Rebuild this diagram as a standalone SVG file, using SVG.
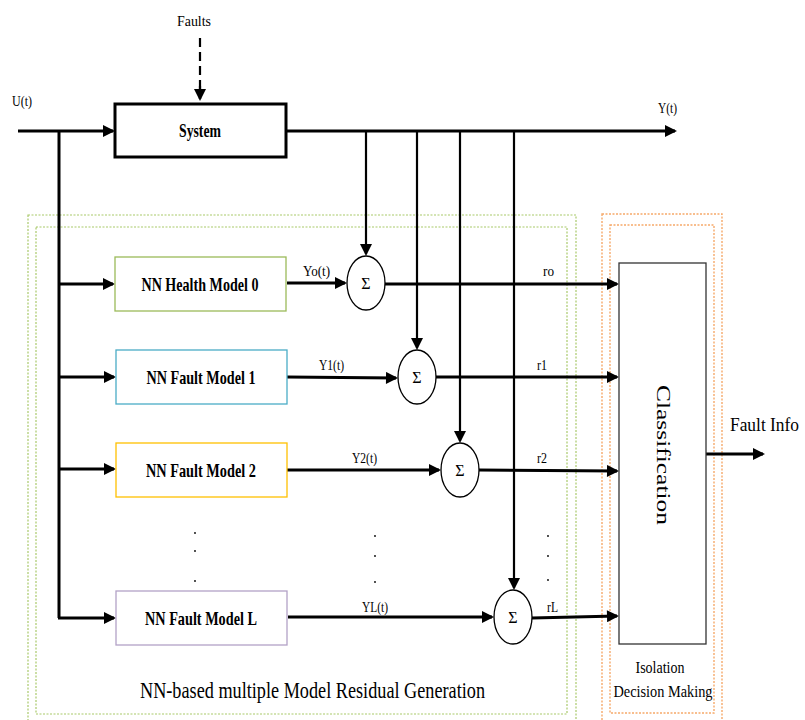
<svg xmlns="http://www.w3.org/2000/svg" width="805" height="720" viewBox="0 0 805 720">
<defs>
<marker id="ah" viewBox="0 0 12 12" markerUnits="userSpaceOnUse" markerWidth="13" markerHeight="12" refX="10" refY="6" orient="auto">
<path d="M0,0 L12,6 L0,12 z" fill="#000"/>
</marker>
<style>
.t{font-family:"Liberation Serif","Times New Roman",serif;fill:#000}
.b{font-weight:bold}
.w3{stroke:#000;stroke-width:3;fill:none}
.w2{stroke:#000;stroke-width:2.2;fill:none}
.grn{fill:none;stroke:#a9c96a;stroke-width:1.2;stroke-dasharray:2,1.5}
.org{fill:none;stroke:#f6a96a;stroke-width:1.4;stroke-dasharray:2,1.5}
.sum{fill:#fff;stroke:#000;stroke-width:1.3}
</style>
</defs>
<rect width="805" height="720" fill="#fff"/>

<g id="groups">
<rect class="grn" x="28" y="215" width="548" height="510"/>
<rect class="grn" x="36" y="227" width="531" height="487"/>
<rect class="org" x="602" y="214" width="120" height="511"/>
<rect class="org" x="610" y="225" width="104" height="488"/>
</g>

<g id="connectors">
<path class="w2" d="M200,38 L200,99" stroke-dasharray="9,5"/>
<path class="w2" d="M200,86 L200,99" marker-end="url(#ah)"/>
<path class="w3" d="M18,131 L113,131" marker-end="url(#ah)"/>
<path class="w3" d="M286,131 L675,131" marker-end="url(#ah)"/>
<path class="w3" d="M59,131 L59,618"/>
<path class="w3" d="M58,284 L113,284" marker-end="url(#ah)"/>
<path class="w3" d="M58,377 L114,377" marker-end="url(#ah)"/>
<path class="w3" d="M58,469 L114,469" marker-end="url(#ah)"/>
<path class="w3" d="M58,618 L114,618" marker-end="url(#ah)"/>
<path class="w2" d="M366,131 L366,254" marker-end="url(#ah)"/>
<path class="w2" d="M417,131 L417,348" marker-end="url(#ah)"/>
<path class="w2" d="M460,131 L460,441" marker-end="url(#ah)"/>
<path class="w2" d="M514,131 L514,588" marker-end="url(#ah)"/>
<path class="w3" d="M287,283 L345,283" marker-end="url(#ah)"/>
<path class="w3" d="M287,377 L396,378" marker-end="url(#ah)"/>
<path class="w3" d="M287,470 L439,470" marker-end="url(#ah)"/>
<path class="w3" d="M288,617 L492,617" marker-end="url(#ah)"/>
<path class="w3" d="M385,284 L617,284" marker-end="url(#ah)"/>
<path class="w3" d="M436,377 L617,377" marker-end="url(#ah)"/>
<path class="w3" d="M479,470 L617,471" marker-end="url(#ah)"/>
<path class="w3" d="M532,618 L617,616" marker-end="url(#ah)"/>
<path class="w3" d="M706,454 L763,454" marker-end="url(#ah)"/>
</g>

<g id="system">
<rect x="115" y="104" width="171" height="53" fill="#fff" stroke="#000" stroke-width="3"/>
<text class="t b" x="200" y="137" font-size="18" text-anchor="middle" textLength="42" lengthAdjust="spacingAndGlyphs">System</text>
</g>

<g id="model0">
<rect x="115" y="257" width="171" height="54" fill="#fff" stroke="#9bbb59" stroke-width="1.3"/>
<text class="t b" x="200" y="291" font-size="19" text-anchor="middle" textLength="117" lengthAdjust="spacingAndGlyphs">NN Health Model 0</text>
</g>
<g id="model1">
<rect x="116" y="350" width="171" height="54" fill="#fff" stroke="#4bacc6" stroke-width="1.3"/>
<text class="t b" x="201" y="384" font-size="19" text-anchor="middle" textLength="109" lengthAdjust="spacingAndGlyphs">NN Fault Model 1</text>
</g>
<g id="model2">
<rect x="116" y="443" width="171" height="54" fill="#fff" stroke="#ffc000" stroke-width="1.3"/>
<text class="t b" x="201" y="477" font-size="19" text-anchor="middle" textLength="110" lengthAdjust="spacingAndGlyphs">NN Fault Model 2</text>
</g>
<g id="modelL">
<rect x="116" y="591" width="171" height="54" fill="#fff" stroke="#b3a2c7" stroke-width="1.3"/>
<text class="t b" x="201" y="625" font-size="19" text-anchor="middle" textLength="112" lengthAdjust="spacingAndGlyphs">NN Fault Model L</text>
</g>

<g id="sum0"><ellipse class="sum" cx="366" cy="283" rx="19" ry="27"/><text class="t" x="366" y="289" font-size="16" text-anchor="middle">Σ</text></g>
<g id="sum1"><ellipse class="sum" cx="417" cy="377" rx="19" ry="27"/><text class="t" x="417" y="383" font-size="16" text-anchor="middle">Σ</text></g>
<g id="sum2"><ellipse class="sum" cx="460" cy="470" rx="19" ry="27"/><text class="t" x="460" y="476" font-size="16" text-anchor="middle">Σ</text></g>
<g id="sumL"><ellipse class="sum" cx="513" cy="617" rx="19" ry="27"/><text class="t" x="513" y="623" font-size="16" text-anchor="middle">Σ</text></g>

<g id="classification">
<rect x="619" y="263" width="87" height="381" fill="#fff" stroke="#333" stroke-width="1.3"/>
<text class="t" transform="translate(657,455) rotate(90)" x="0" y="0" font-size="18" text-anchor="middle" textLength="140" lengthAdjust="spacingAndGlyphs">Classification</text>
</g>

<g id="labels">
<text class="t" x="194" y="26" font-size="15" text-anchor="middle" textLength="34" lengthAdjust="spacingAndGlyphs">Faults</text>
<text class="t" x="12" y="106" font-size="15" textLength="20" lengthAdjust="spacingAndGlyphs">U(t)</text>
<text class="t" x="658" y="113" font-size="15" textLength="19" lengthAdjust="spacingAndGlyphs">Y(t)</text>
<text class="t" x="303" y="276" font-size="15" textLength="27" lengthAdjust="spacingAndGlyphs">Yo(t)</text>
<text class="t" x="319" y="370" font-size="15" textLength="25" lengthAdjust="spacingAndGlyphs">Y1(t)</text>
<text class="t" x="352" y="463" font-size="15" textLength="25" lengthAdjust="spacingAndGlyphs">Y2(t)</text>
<text class="t" x="362" y="612" font-size="15" textLength="26" lengthAdjust="spacingAndGlyphs">YL(t)</text>
<text class="t" x="543" y="276" font-size="15" textLength="11" lengthAdjust="spacingAndGlyphs">ro</text>
<text class="t" x="537" y="370" font-size="15" textLength="10" lengthAdjust="spacingAndGlyphs">r1</text>
<text class="t" x="537" y="463" font-size="15" textLength="10" lengthAdjust="spacingAndGlyphs">r2</text>
<text class="t" x="547" y="612" font-size="15" textLength="11" lengthAdjust="spacingAndGlyphs">rL</text>
<text class="t" x="730" y="431" font-size="18.5" textLength="69" lengthAdjust="spacingAndGlyphs">Fault Info</text>
<text class="t" x="140" y="698" font-size="23" textLength="345" lengthAdjust="spacingAndGlyphs">NN-based multiple Model Residual Generation</text>
<text class="t" x="660" y="673" font-size="16" text-anchor="middle" textLength="49" lengthAdjust="spacingAndGlyphs">Isolation</text>
<text class="t" x="663" y="697" font-size="16" text-anchor="middle" textLength="99" lengthAdjust="spacingAndGlyphs">Decision Making</text>
</g>

<g id="dots" fill="#000">
<circle cx="195" cy="533" r="0.9"/><circle cx="195" cy="551" r="0.9"/><circle cx="195" cy="581" r="0.9"/>
<circle cx="375" cy="536" r="0.9"/><circle cx="375" cy="556" r="0.9"/><circle cx="375" cy="582" r="0.9"/>
<circle cx="548" cy="536" r="0.9"/><circle cx="548" cy="556" r="0.9"/><circle cx="548" cy="580" r="0.9"/>
</g>
</svg>
